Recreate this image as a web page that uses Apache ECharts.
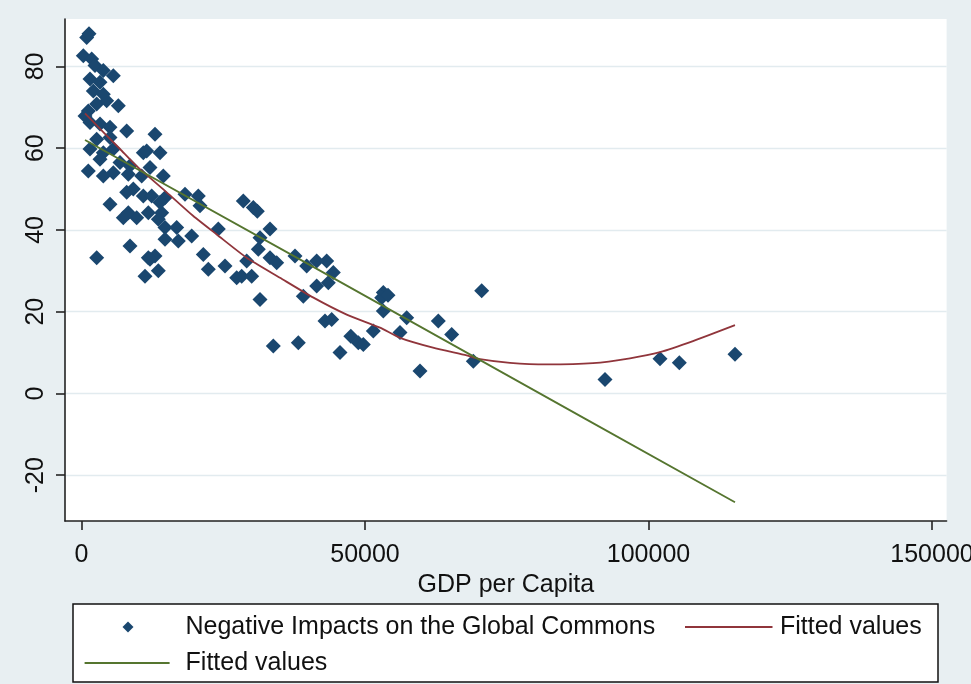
<!DOCTYPE html>
<html><head><meta charset="utf-8">
<script src="https://cdn.jsdelivr.net/npm/echarts@6/dist/echarts.min.js"></script>
<style>html,body{margin:0;padding:0;background:#e8eff2;} #c{width:971px;height:684px;}</style>
</head><body><div id="c"></div>
<script>
// Scatter: GDP per capita vs Negative Impacts on the Global Commons
const gdp = [917,1323,317,1799,2381,3845,5609,1499,3263,2081,3845,2681,4445,6490,1199,617,1499,3263,5027,7972,
  2681,5027,1499,3845,5609,10900,3263,6790,8554,1199,3845,5609,8254,10617,9136,10900,5027,7972,7372,9736,
  8254,8554,2681,11782,11199,12963,11499,13845,12081,14427,18254,20600,12381,14727,20900,11782,14145,13545,14727,16790,
  24127,14727,17073,19436,21482,12963,12081,22364,25309,13545,13845,27373,28537,30300,31006,33246,31482,31182,33246,34427,
  28254,30018,31482,29136,33828,37655,39719,41482,43246,44410,41482,43528,39119,38237,42946,44128,45592,47496,48819,49701,
  51465,53228,52946,54057,53228,56174,57355,59701,62929,65292,70583,69102,92330,102030,105434,115258];
const impact = [87.1,88.0,82.6,81.8,80.2,79.0,77.7,76.9,76.1,74.0,73.2,70.8,71.6,70.4,69.1,67.9,66.3,65.9,65.1,64.2,
  62.2,62.6,59.8,58.9,59.8,58.9,57.3,56.5,55.7,54.4,53.2,54.0,53.6,53.2,50.0,48.3,46.3,49.2,43.0,43.0,
  44.2,36.1,33.2,33.2,28.7,63.4,59.3,58.9,55.3,53.2,48.7,48.3,48.3,47.9,45.9,44.2,44.2,42.6,40.6,40.6,
  40.2,37.7,37.3,38.5,34.0,33.6,32.8,30.4,31.2,30.0,46.7,28.3,47.1,45.5,44.6,40.2,38.1,35.3,33.2,32.0,
  28.7,28.7,23.0,32.4,11.6,33.6,31.2,32.4,32.4,29.6,26.3,27.1,23.8,12.4,17.7,18.1,10.0,14.0,12.4,12.0,
  15.3,24.7,23.4,24.0,20.2,14.9,18.5,5.5,17.7,14.4,25.1,7.9,3.4,8.5,7.5,9.6];
// Fitted values (curved, red)
const fitCurveX = [617,6790,9736,15027,19718,23845,29136,35010,40830,46773,52647,56174,61994,67937,70289,75574,82000,90214,96740,102030,107850,115258];
const fitCurveY = [68.5,59.8,55.6,49.2,43.4,38.9,33.2,28.3,23.5,19.3,16.1,13.6,11.2,9.3,8.4,7.5,7.1,7.4,8.6,10.1,12.8,16.7];
// Fitted values (straight, green)
const fitLineX = [617,38502,89100,115258];
const fitLineY = [62.0,32.8,-6.4,-26.6];
const xTicks = [0,50000,100000,150000];
const yTicks = [-20,0,20,40,60,80];

const FONT = 'Liberation Sans, Arial, sans-serif';
const pts = gdp.map((g,i)=>[g, impact[i]]);
const curve = fitCurveX.map((g,i)=>[g, fitCurveY[i]]);
const line = fitLineX.map((g,i)=>[g, fitLineY[i]]);

const chart = echarts.init(document.getElementById('c'), null, {renderer:'canvas'});
const legendText = {fontFamily: FONT, fontSize: 25, color: '#111'};
chart.setOption({
  backgroundColor: '#e8eff2',
  animation: false,
  grid: {left: 65, right: 24.4, top: 19, bottom: 163, show: true, backgroundColor: '#ffffff', borderWidth: 0, containLabel: false, outerBoundsMode: 'none'},
  xAxis: {
    type: 'value', min: -2910, max: 152579,
    name: 'GDP per Capita', nameLocation: 'middle', nameGap: 44,
    nameTextStyle: {fontFamily: FONT, fontSize: 25, color: '#111'},
    axisLine: {show: true, onZero: false, lineStyle: {color: '#222', width: 1.6}},
    axisTick: {show: true, length: 9, customValues: xTicks, lineStyle: {color: '#222', width: 1.6}},
    axisLabel: {customValues: xTicks, formatter: v => String(v), fontFamily: FONT, fontSize: 25, color: '#111', margin: 22},
    splitLine: {show: false}
  },
  yAxis: {
    type: 'value', min: -31.2, max: 91.6,
    axisLine: {show: true, onZero: false, lineStyle: {color: '#222', width: 1.6}},
    axisTick: {show: true, length: 9, customValues: yTicks, lineStyle: {color: '#222', width: 1.6}},
    axisLabel: {customValues: yTicks, formatter: v => String(v), rotate: 90, fontFamily: FONT, fontSize: 25, color: '#111', margin: 16},
    splitLine: {show: true, lineStyle: {color: '#e2ebef', width: 1.3}}
  },
  graphic: [{type: 'rect', shape: {x: 73, y: 604, width: 865, height: 78}, style: {fill: '#fff', stroke: '#111', lineWidth: 1.5}, z: -1}],
  legend: [
    {left: 122.5, top: 614.5, padding: 0, itemWidth: 11, itemHeight: 11, selectedMode: false,
     data: [{name: 'Negative Impacts on the Global Commons', icon: 'diamond'}],
     textStyle: Object.assign({padding: [0,0,0,47]}, legendText)},
    {left: 685, top: 614.5, padding: 0, itemWidth: 87.5, itemHeight: 2, selectedMode: false,
     data: [{name: 'Fitted values (curve)', icon: 'rect'}], formatter: () => 'Fitted values',
     textStyle: Object.assign({padding: [0,0,0,2.5]}, legendText)},
    {left: 84.6, top: 650.5, padding: 0, itemWidth: 85, itemHeight: 2, selectedMode: false,
     data: [{name: 'Fitted values (line)', icon: 'rect'}], formatter: () => 'Fitted values',
     textStyle: Object.assign({padding: [0,0,0,11]}, legendText)}
  ],
  series: [
    {name: 'Negative Impacts on the Global Commons', type: 'scatter', data: pts, symbol: 'diamond', symbolSize: 15,
     itemStyle: {color: '#1a476f', opacity: 1}},
    {name: 'Fitted values (curve)', type: 'line', data: curve, symbol: 'none', smooth: 0.2,
     lineStyle: {color: '#90353b', width: 1.8}, itemStyle: {color: '#90353b'}},
    {name: 'Fitted values (line)', type: 'line', data: line, symbol: 'none',
     lineStyle: {color: '#55752f', width: 1.8}, itemStyle: {color: '#55752f'}}
  ]
});
</script></body></html>
